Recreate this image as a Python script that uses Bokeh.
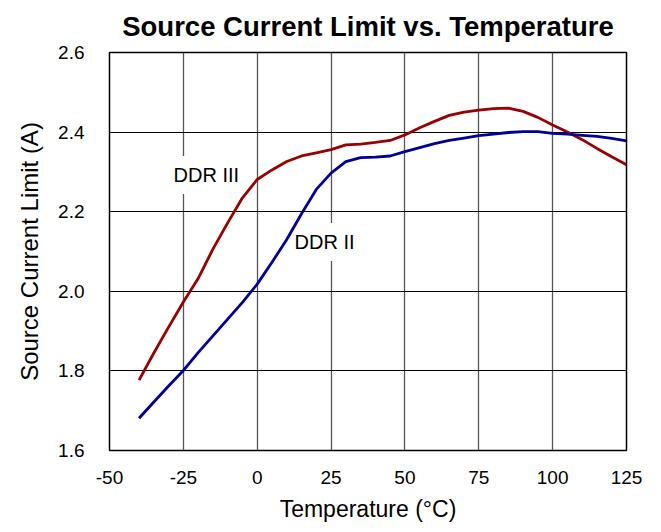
from bokeh.plotting import figure
from bokeh.models import Range1d, FixedTicker, Label, PrintfTickFormatter
from bokeh.embed import file_html
from bokeh.resources import INLINE

# Data
temps = [-40, -35, -30, -25, -20, -15, -10, -5, 0, 5, 10, 15, 20, 25, 30, 35, 40, 45,
         50, 55, 60, 65, 70, 75, 80, 85, 90, 95, 100, 105, 110, 115, 120, 125]
ddr3 = [1.777, 1.845, 1.910, 1.973, 2.032, 2.106, 2.172, 2.235, 2.281, 2.305, 2.326, 2.340,
        2.348, 2.356, 2.368, 2.370, 2.374, 2.379, 2.393, 2.411, 2.427, 2.442, 2.450, 2.455,
        2.459, 2.460, 2.452, 2.437, 2.418, 2.400, 2.381, 2.359, 2.338, 2.318]
ddr2 = [1.681, 1.722, 1.762, 1.801, 1.846, 1.888, 1.930, 1.972, 2.018, 2.073, 2.130, 2.195,
        2.256, 2.297, 2.326, 2.336, 2.337, 2.340, 2.351, 2.361, 2.371, 2.379, 2.385, 2.391,
        2.395, 2.399, 2.401, 2.401, 2.397, 2.395, 2.392, 2.389, 2.384, 2.378]
series_names = ["DDR III", "DDR II"]
x_ticks = [-50, -25, 0, 25, 50, 75, 100, 125]
y_ticks = [1.6, 1.8, 2.0, 2.2, 2.4, 2.6]

FONT = "Liberation Sans"

p = figure(width=653, height=524, output_backend="svg", toolbar_location=None,
           x_range=Range1d(-50, 125), y_range=Range1d(1.6, 2.6),
           min_border_left=109, min_border_right=27, min_border_top=52, min_border_bottom=71)
p.background_fill_color = "white"
p.border_fill_color = "white"
p.outline_line_color = "black"
p.outline_line_width = 1.5

p.title.text = "Source Current Limit vs. Temperature"
p.title.align = "center"
p.title.vertical_align = "top"
p.title.text_font = FONT
p.title.text_font_size = "27.5px"
p.title.text_font_style = "bold"
p.title.text_color = "black"
p.title.standoff = 18

for ax in (p.xaxis[0], p.yaxis[0]):
    ax.major_tick_in = 0
    ax.major_tick_out = 0
    ax.minor_tick_line_color = None
    ax.axis_line_color = None
    ax.major_label_text_font = FONT
    ax.major_label_text_font_size = "19px"
    ax.major_label_text_color = "black"
    ax.axis_label_text_font = FONT
    ax.axis_label_text_font_style = "normal"
    ax.axis_label_text_color = "black"

p.xaxis.ticker = FixedTicker(ticks=x_ticks)
p.xaxis.formatter = PrintfTickFormatter(format="%d")
p.xaxis.axis_label = "Temperature (°C)"
p.xaxis.axis_label_text_font_size = "23px"
p.xaxis.major_label_standoff = 20
p.xaxis.axis_label_standoff = 9

p.yaxis.ticker = FixedTicker(ticks=y_ticks)
p.yaxis.formatter = PrintfTickFormatter(format="%.1f")
p.yaxis.axis_label = "Source Current Limit (A)"
p.yaxis.axis_label_text_font_size = "24px"
p.yaxis.major_label_standoff = 25
p.yaxis.axis_label_standoff = 12

p.xgrid.ticker = FixedTicker(ticks=x_ticks)
p.ygrid.ticker = FixedTicker(ticks=y_ticks)
p.xgrid.grid_line_color = "#555555"
p.xgrid.grid_line_width = 1.3
p.ygrid.grid_line_color = "black"
p.ygrid.grid_line_width = 1.2

for name, x, y in [(series_names[0], -17.2, 2.292), (series_names[1], 22.8, 2.124)]:
    p.add_layout(Label(x=x, y=y, text=name, text_align="center", text_baseline="middle",
                       text_font=FONT, text_font_size="20px", text_color="black",
                       background_fill_color="white", padding=8, level="underlay"))

p.line(temps, ddr3, line_color="#990000", line_width=2.8)
p.line(temps, ddr2, line_color="#000099", line_width=2.8)

open("out.html", "w").write(file_html(p, INLINE))
